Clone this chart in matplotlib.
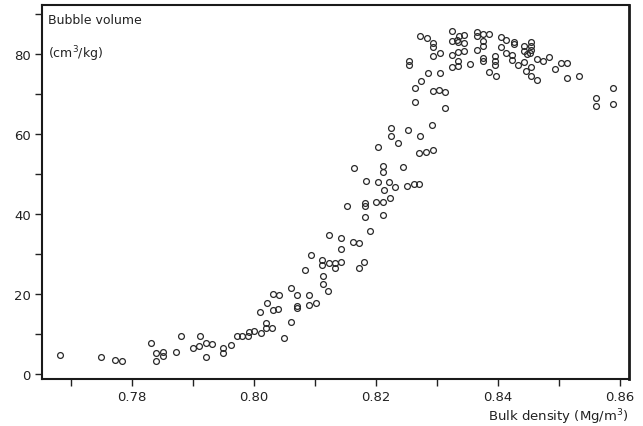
import matplotlib
matplotlib.use("Agg")
import matplotlib.pyplot as plt
from matplotlib.ticker import MultipleLocator

# bulk density (Mg/m3) and bubble volume (cm3/kg)
density = [
    0.7682, 0.7750, 0.7772, 0.7783, 0.7831, 0.7840, 0.7840, 0.7851, 0.7851, 0.7872,
    0.7881, 0.7900, 0.7910, 0.7911, 0.7921, 0.7921, 0.7932, 0.7950, 0.7950, 0.7962,
    0.7972, 0.7981,
    0.7991, 0.7992, 0.8000, 0.8011, 0.8019, 0.8019, 0.8030, 0.8050, 0.8010, 0.8022,
    0.8032, 0.8040, 0.8031, 0.8041, 0.8060, 0.8061, 0.8071, 0.8071, 0.8071, 0.8090,
    0.8090, 0.8102, 0.8084, 0.8093, 0.8113, 0.8113, 0.8122, 0.8111, 0.8111, 0.8123,
    0.8123, 0.8133, 0.8142, 0.8133, 0.8142, 0.8142, 0.8163, 0.8172, 0.8172, 0.8181,
    0.8191, 0.8153, 0.8182, 0.8182, 0.8182, 0.8200, 0.8212, 0.8212,
    0.8223, 0.8183, 0.8203, 0.8221, 0.8213, 0.8232, 0.8251, 0.8262, 0.8271, 0.8164,
    0.8212, 0.8212, 0.8244, 0.8203, 0.8224, 0.8224, 0.8236, 0.8253, 0.8273, 0.8271,
    0.8282, 0.8293, 0.8292, 0.8264, 0.8313,
    0.8264, 0.8274, 0.8286, 0.8305, 0.8294, 0.8303, 0.8313, 0.8255, 0.8255, 0.8273,
    0.8284, 0.8294, 0.8294, 0.8293, 0.8305, 0.8325, 0.8325, 0.8333, 0.8337, 0.8345,
    0.8335, 0.8345, 0.8335, 0.8344, 0.8325, 0.8325, 0.8335, 0.8335, 0.8354, 0.8365,
    0.8365, 0.8375, 0.8386, 0.8376, 0.8376, 0.8365, 0.8375, 0.8375, 0.8396, 0.8396,
    0.8396, 0.8386, 0.8397, 0.8405, 0.8414, 0.8405, 0.8426, 0.8426, 0.8414, 0.8424,
    0.8424, 0.8433, 0.8443, 0.8443, 0.8455, 0.8455, 0.8455, 0.8447, 0.8452, 0.8443,
    0.8446, 0.8455, 0.8455, 0.8464, 0.8464, 0.8474, 0.8484, 0.8494, 0.8504, 0.8513,
    0.8514, 0.8533, 0.8561, 0.8561, 0.8589, 0.8589,
]
volume = [
    4.75, 4.3, 3.6, 3.25, 7.7, 5.25, 3.3, 5.4, 4.6, 5.6,
    9.6, 6.4, 6.9, 9.6, 7.7, 4.3, 7.5, 6.4, 5.25, 7.2,
    9.5, 9.5,
    9.6, 10.6, 10.75, 10.2, 11.4, 12.75, 11.6, 9.0, 15.4, 17.7,
    16.1, 16.3, 20.1, 19.7, 21.5, 12.9, 19.7, 17.1, 16.4, 19.7,
    17.25, 17.8, 26.1, 29.75, 24.6, 22.5, 20.7, 28.6, 27.25, 34.75,
    27.75, 27.75, 27.9, 26.4, 34.0, 31.25, 33.1, 32.7, 26.4, 27.9,
    35.8, 42.1, 42.75, 42.1, 39.3, 42.9, 42.9, 39.8,
    44.0, 48.2, 48.0, 48.0, 46.1, 46.7, 47.0, 47.5, 47.5, 51.6,
    51.9, 50.6, 51.8, 56.75, 61.4, 59.6, 57.8, 61.1, 59.5, 55.25,
    55.6, 55.9, 62.25, 67.9, 66.5,
    71.5, 73.3, 75.2, 75.2, 70.7, 70.9, 70.4, 78.3, 77.25, 84.6,
    84.0, 82.7, 81.7, 79.6, 80.25, 85.8, 83.3, 83.5, 84.4, 84.8,
    82.9, 82.7, 80.6, 80.75, 79.8, 76.8, 77.1, 78.3, 77.5, 85.4,
    84.6, 85.0, 85.0, 83.3, 82.1, 81.1, 78.9, 78.2, 79.4, 78.3,
    77.25, 75.4, 74.6, 84.2, 83.5, 81.7, 83.1, 82.5, 80.2, 79.75,
    78.5, 77.25, 82.1, 80.8, 83.1, 82.1, 81.1, 80.0, 80.25, 78.1,
    75.7, 76.7, 74.6, 73.5, 78.75, 78.3, 79.3, 76.25, 77.7, 77.7,
    73.9, 74.6, 69.0, 66.9, 71.5, 67.5,
]

x_ticks = [0.78, 0.80, 0.82, 0.84, 0.86]
y_ticks = [0, 20, 40, 60, 80]

plt.rcParams["font.family"] = ["DejaVu Sans"]

fig = plt.figure(figsize=(6.43, 4.27), dpi=100)
ax = fig.add_axes([0.0653, 0.110, 0.9127, 0.876])

ax.plot(density, volume, "o", markersize=4.2, markerfacecolor="none",
        markeredgecolor="#2a2a2a", markeredgewidth=0.9)

ax.set_xlim(0.76525, 0.86148)
ax.set_ylim(-1.25, 92.25)

ax.set_xticks(x_ticks)
ax.set_xticklabels([f"{t:.2f}" for t in x_ticks])
ax.set_yticks(y_ticks)
ax.xaxis.set_minor_locator(MultipleLocator(0.01))
ax.yaxis.set_minor_locator(MultipleLocator(10))
ax.tick_params(which="both", direction="out", length=5, width=1, color="#222",
               labelsize=9.5, labelcolor="#222")
ax.tick_params(axis="x", pad=3)
ax.tick_params(axis="y", pad=3)

for side in ax.spines.values():
    side.set_linewidth(1.5)
    side.set_color("#1a1a1a")
ax.spines["right"].set_linewidth(2)

ax.text(0.011, 0.962, "Bubble volume", transform=ax.transAxes, fontsize=9,
        color="#222", va="center", ha="left")
ax.text(0.011, 0.872, "(cm$^3$/kg)", transform=ax.transAxes, fontsize=9,
        color="#222", va="center", ha="left")

fig.text(0.978, 0.024, "Bulk density (Mg/m$^3$)", fontsize=9.5, color="#222",
         ha="right", va="center")

fig.savefig("out.png", dpi=100)
